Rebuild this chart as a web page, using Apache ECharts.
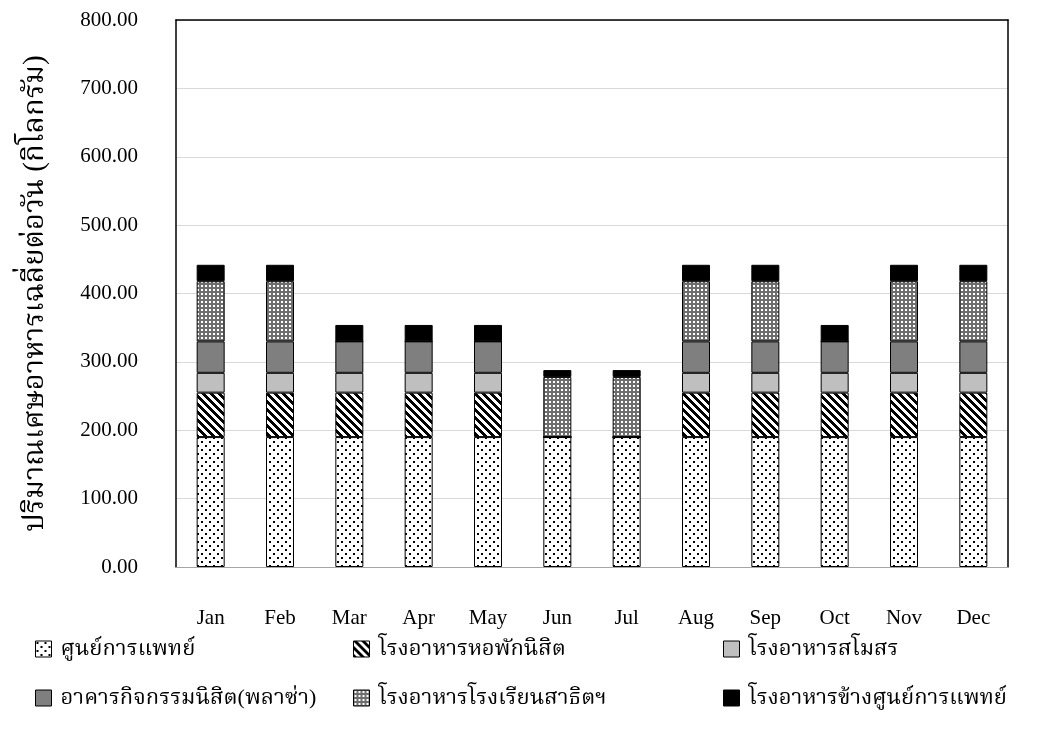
<!DOCTYPE html>
<html>
<head>
<meta charset="utf-8">
<script src="https://cdn.jsdelivr.net/npm/echarts@6/dist/echarts.min.js"></script>
<style>
  html, body { margin: 0; padding: 0; background: #fff; }
  #chart { width: 1040px; height: 747px; }
</style>
</head>
<body>
<div id="chart"></div>
<script>
// Average daily food waste per source (kg), by month
const months = ['Jan', 'Feb', 'Mar', 'Apr', 'May', 'Jun', 'Jul', 'Aug', 'Sep', 'Oct', 'Nov', 'Dec'];
const seriesNames = [
  'ศูนย์การแพทย์',
  'โรงอาหารหอพักนิสิต',
  'โรงอาหารสโมสร',
  'อาคารกิจกรรมนิสิต(พลาซ่า)',
  'โรงอาหารโรงเรียนสาธิตฯ',
  'โรงอาหารข้างศูนย์การแพทย์'
];
const medicalCenter = [190, 190, 190, 190, 190, 190, 190, 190, 190, 190, 190, 190];
const dormCanteen   = [65, 65, 65, 65, 65, 0, 0, 65, 65, 65, 65, 65];
const clubCanteen   = [29, 29, 29, 29, 29, 0, 0, 29, 29, 29, 29, 29];
const plazaBuilding = [46, 46, 46, 46, 46, 0, 0, 46, 46, 46, 46, 46];
const demoSchool    = [88, 88, 0, 0, 0, 88, 88, 88, 88, 0, 88, 88];
const besideMedical = [24, 24, 24, 24, 24, 10, 10, 24, 24, 24, 24, 24];
const yTicks = { min: 0, max: 800, interval: 100 };

// Fill patterns drawn on small tiles
function tile(size, draw) {
  const c = document.createElement('canvas');
  c.width = size; c.height = size;
  const ctx = c.getContext('2d');
  draw(ctx, size);
  return { image: c, repeat: 'repeat' };
}
const dotsFill = tile(8, (ctx, s) => {
  ctx.fillStyle = '#fff'; ctx.fillRect(0, 0, s, s);
  ctx.fillStyle = '#000';
  ctx.fillRect(1, 1, 2, 2);
  ctx.fillRect(5, 5, 2, 2);
});
const stripeFill = tile(8, (ctx, s) => {
  ctx.fillStyle = '#fff'; ctx.fillRect(0, 0, s, s);
  ctx.fillStyle = '#000';
  for (let y = 0; y < s; y++) {
    for (let x = 0; x < s; x++) {
      if (((x - y) % s + s) % s < 4) ctx.fillRect(x, y, 1, 1);
    }
  }
});
const grayDotsFill = tile(4, (ctx, s) => {
  ctx.fillStyle = '#6e6e6e'; ctx.fillRect(0, 0, s, s);
  ctx.fillStyle = '#fff';
  ctx.fillRect(1, 1, 2, 2);
});

const fills = [dotsFill, stripeFill, '#bfbfbf', '#7f7f7f', grayDotsFill, '#000000'];
const values = [medicalCenter, dormCanteen, clubCanteen, plazaBuilding, demoSchool, besideMedical];

const serif = "'Liberation Serif', 'Times New Roman', serif";
const thai = "'Liberation Serif', 'Noto Serif Thai', 'Noto Sans Thai', serif";

const chart = echarts.init(document.getElementById('chart'), null, { renderer: 'canvas' });

const series = seriesNames.map((name, i) => ({
  name,
  type: 'bar',
  stack: 'total',
  barWidth: 28,
  data: values[i],
  itemStyle: { color: fills[i], borderColor: '#000', borderWidth: 1 },
  emphasis: { disabled: true }
}));

const legendBase = {
  orient: 'vertical',
  top: 638,
  padding: 0,
  itemWidth: 16,
  itemHeight: 16,
  itemGap: 27,
  icon: 'rect',
  textStyle: { fontFamily: thai, fontSize: 22, color: '#000', padding: [0, 0, 0, 4] },
  selectedMode: false,
  itemStyle: { borderColor: '#000', borderWidth: 1 }
};

// Plain frame line used for the top, left and right edges of the plot box
const frameLine = { show: true, onZero: false, lineStyle: { color: '#000', width: 1.5 } };

chart.setOption({
  animation: false,
  backgroundColor: '#fff',
  grid: { left: 176, right: 32, top: 20, bottom: 180 },
  legend: [
    Object.assign({}, legendBase, { left: 35, data: [seriesNames[0], seriesNames[3]] }),
    Object.assign({}, legendBase, { left: 353, data: [seriesNames[1], seriesNames[4]] }),
    Object.assign({}, legendBase, { left: 723, data: [seriesNames[2], seriesNames[5]] })
  ],
  xAxis: [
    {
      type: 'category',
      data: months,
      axisLine: { onZero: false, lineStyle: { color: '#a6a6a6', width: 1 } },
      axisTick: { show: false },
      axisLabel: { fontFamily: serif, fontSize: 21, color: '#000', margin: 41 },
      z: 3
    },
    {
      type: 'category',
      data: months,
      position: 'top',
      axisLine: frameLine,
      axisTick: { show: false },
      axisLabel: { show: false }
    }
  ],
  yAxis: [
    {
      type: 'value',
      min: yTicks.min, max: yTicks.max, interval: yTicks.interval,
      name: 'ปริมาณเศษอาหารเฉลี่ยต่อวัน (กิโลกรัม)',
      nameLocation: 'middle',
      nameGap: 126,
      nameTextStyle: { fontFamily: thai, fontSize: 29, color: '#000' },
      axisLine: frameLine,
      axisTick: { show: false },
      splitLine: { lineStyle: { color: '#d9d9d9', width: 1 } },
      axisLabel: {
        fontFamily: serif, fontSize: 21, color: '#000', margin: 38,
        formatter: v => v.toFixed(2)
      }
    },
    {
      type: 'value',
      min: yTicks.min, max: yTicks.max, interval: yTicks.interval,
      position: 'right',
      axisLine: frameLine,
      axisTick: { show: false },
      axisLabel: { show: false },
      splitLine: { show: false }
    }
  ],
  series
});
</script>
</body>
</html>
